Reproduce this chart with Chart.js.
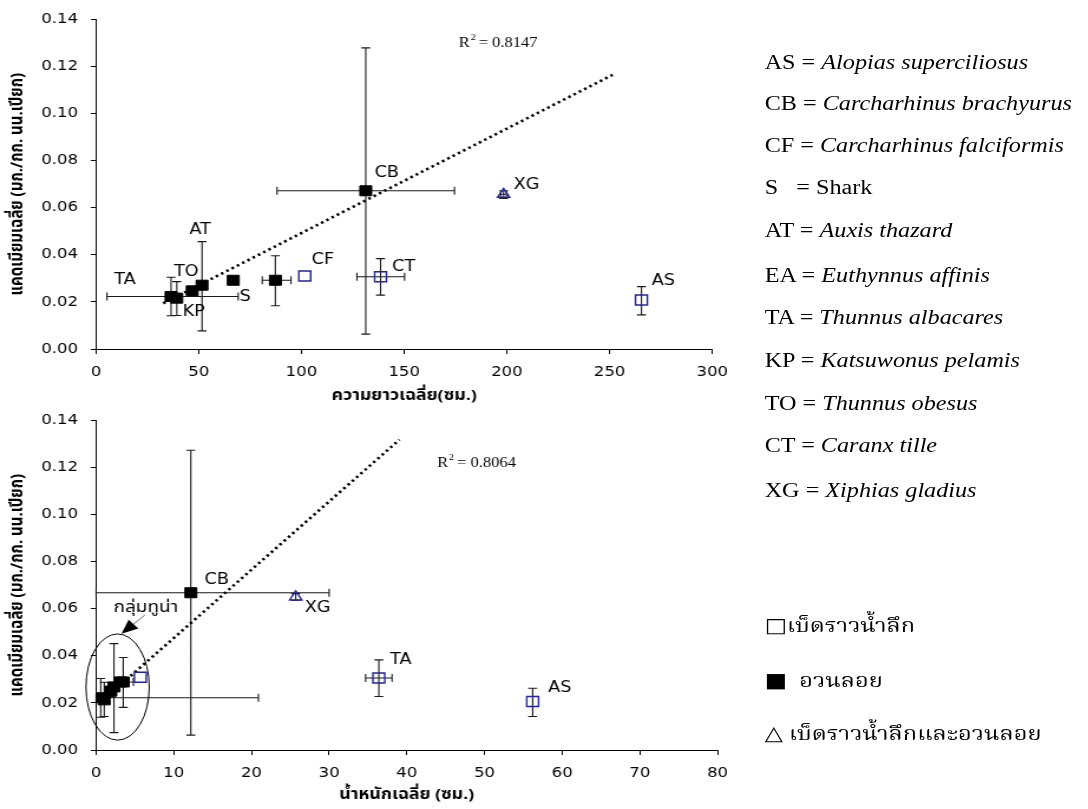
<!DOCTYPE html>
<html lang="th">
<head>
<meta charset="utf-8">
<title>แคดเมียมเฉลี่ยกับขนาดปลา</title>
<script src="https://cdn.jsdelivr.net/npm/chart.js@4.4.1/dist/chart.umd.min.js"></script>
<style>
  html, body { margin: 0; padding: 0; background: #fff; }
  body { width: 1088px; height: 809px; position: relative; overflow: hidden; }
  /* the whole figure is laid out narrow and widened as one piece */
  #fig {
    position: absolute; left: 0; top: 0; width: 922px; height: 809px;
    transform: scaleX(1.18); transform-origin: 0 0;
  }
  .plot { position: absolute; left: 0; width: 627px; }
  #lenBox { top: 0; height: 410px; }
  #wtBox { top: 401px; height: 408px; }
  .key {
    position: absolute; left: 648px; height: 24px; line-height: 24px;
    font-family: "Liberation Serif", "Times New Roman", serif; font-size: 20.5px;
    color: #000; white-space: nowrap;
  }
  .key i { font-style: italic; }
  .thai { font-family: "Noto Serif Thai", "Noto Sans Thai", Norasi, Loma, Garuda, serif; font-size: 20px; }
  .sym { font-family: "DejaVu Sans", sans-serif; font-size: 20px; }
</style>
</head>
<body>
<div id="fig">
  <div class="plot" id="lenBox"><canvas id="lenChart"></canvas></div>
  <div class="plot" id="wtBox"><canvas id="wtChart"></canvas></div>

  <div class="key" style="top:50px">AS = <i>Alopias superciliosus</i></div>
  <div class="key" style="top:91px">CB = <i>Carcharhinus brachyurus</i></div>
  <div class="key" style="top:133px">CF = <i>Carcharhinus falciformis</i></div>
  <div class="key" style="top:175px">S &nbsp;&nbsp;= Shark</div>
  <div class="key" style="top:218px">AT = <i>Auxis thazard</i></div>
  <div class="key" style="top:263px">EA = <i>Euthynnus affinis</i></div>
  <div class="key" style="top:305px">TA = <i>Thunnus albacares</i></div>
  <div class="key" style="top:348px">KP = <i>Katsuwonus pelamis</i></div>
  <div class="key" style="top:391px">TO = <i>Thunnus obesus</i></div>
  <div class="key" style="top:433px">CT = <i>Caranx tille</i></div>
  <div class="key" style="top:478px">XG = <i>Xiphias gladius</i></div>

  <div class="key thai" style="top:613px"><span class="sym">□</span>เบ็ดราวน้ำลึก</div>
  <div class="key thai" style="top:668px"><span class="sym">■</span> &nbsp;อวนลอย</div>
  <div class="key thai" style="top:721px"><span class="sym">△</span> เบ็ดราวน้ำลึกและอวนลอย</div>
</div>

<script>
// ---- ความยาวเฉลี่ย (ซม.) vs แคดเมียม ----
const lenCodes = ['TA', 'KP', 'TO', 'AT', 'S', 'EA', 'CB', 'CF', 'CT', 'XG', 'AS'];
const lenLabels = ['TA', 'KP', 'TO', 'AT', 'S', '', 'CB', 'CF', 'CT', 'XG', 'AS'];
const lenGear = ['drift', 'drift', 'drift', 'drift', 'drift', 'drift', 'drift', 'long', 'long', 'both', 'long'];
const lenX = [36.5, 39.3, 46.8, 51.6, 66.8, 87.3, 131.3, 101.6, 138.5, 198.4, 265.5];
const lenY = [0.0223, 0.0216, 0.0247, 0.0271, 0.0292, 0.0292, 0.0672, 0.0310, 0.0307, 0.0657, 0.0208];
const lenXLo = [5.3, null, null, null, null, 80.9, 88.1, null, 127.0, 197.0, null];
const lenXHi = [69.2, null, null, null, null, 94.9, 174.5, null, 150.2, 199.8, null];
const lenYLo = [0.0141, 0.0142, 0.0226, 0.0077, null, 0.0184, 0.0063, null, 0.0229, 0.0640, 0.0145];
const lenYHi = [0.0305, 0.0286, 0.0261, 0.0456, null, 0.0396, 0.1279, null, 0.0384, 0.0672, 0.0265];
const lenTrendX = [32.7, 252.7];
const lenTrendY = [0.0194, 0.1170];
const lenR2 = '0.8147';

// ---- น้ำหนักเฉลี่ย vs แคดเมียม ----
const wtCodes = ['TA', 'KP', 'TO', 'AT', 'S', 'EA', 'CB', 'CF', 'CT', 'XG', 'AS'];
const wtLabels = ['', '', '', '', '', '', 'CB', '', 'TA', 'XG', 'AS'];
const wtGear = lenGear;
const wtX = [0.6, 1.05, 1.9, 2.3, 3.1, 3.5, 12.2, 5.7, 36.4, 25.7, 56.2];
const wtY = [0.0222, 0.0213, 0.0250, 0.0268, 0.0289, 0.0289, 0.0668, 0.0309, 0.0306, 0.0650, 0.0206];
const wtXLo = [0, null, null, null, null, 2.9, 0, null, 34.7, null, null];
const wtXHi = [20.9, null, null, null, null, 4.8, 30.0, null, 38.1, null, null];
const wtYLo = [0.0139, 0.0142, 0.0225, 0.0074, null, 0.0181, 0.0063, null, 0.0227, 0.0636, 0.0142];
const wtYHi = [0.0304, 0.0288, 0.0262, 0.0452, null, 0.0393, 0.1273, null, 0.0383, 0.0664, 0.0262];
const wtTrendX = [0.6, 39.05];
const wtTrendY = [0.0203, 0.1318];
const wtR2 = '0.8064';

const SANS = '"DejaVu Sans", "Liberation Sans", Arial, sans-serif';
const SERIF = '"Liberation Serif", "Times New Roman", serif';
const THAI = '"Noto Sans Thai", "Noto Serif Thai", Loma, Garuda, Norasi, "DejaVu Sans", sans-serif';
const BLUE = '#23239c';

const gearStyle = {
  drift: { pointStyle: 'rect', pointRadius: 7.1, backgroundColor: '#000', borderColor: '#000', borderWidth: 1 },
  long: { pointStyle: 'rect', pointRadius: 7.1, backgroundColor: 'rgba(0,0,0,0)', borderColor: BLUE, borderWidth: 1.4 },
  both: { pointStyle: 'triangle', pointRadius: 6, backgroundColor: 'rgba(0,0,0,0)', borderColor: BLUE, borderWidth: 1.4 }
};

// where each code's text sits relative to its marker (px)
const lenLabelPos = {
  TA: [-39, -16], KP: [14.4, 14], TO: [-5, -19], AT: [-1.7, -55], S: [10.2, 17],
  CB: [17.8, -18], CF: [15.3, -16], CT: [19.5, -10], XG: [19.5, -9], AS: [18.6, -19]
};
const wtLabelPos = { CB: [22, -13], TA: [18.6, -18], XG: [18.6, 11], AS: [22.9, -13] };

function buildDatasets(xs, ys, gear, trendX, trendY) {
  const sets = ['long', 'both', 'drift'].map(g => {
    const pts = [];
    xs.forEach((x, i) => { if (gear[i] === g) pts.push({ x, y: ys[i] }); });
    return Object.assign({ data: pts, showLine: false }, gearStyle[g]);
  });
  sets.push({
    data: trendX.map((x, i) => ({ x, y: trendY[i] })),
    showLine: true, pointRadius: 0, borderColor: '#000', borderWidth: 2.6,
    borderDash: [2.2, 3.0], fill: false
  });
  return sets;
}

const errorBars = {
  id: 'errorBars',
  beforeDatasetsDraw(chart, args, o) {
    const { ctx } = chart;
    const sx = chart.scales.x, sy = chart.scales.y;
    const seg = (a, b, c, d) => { ctx.moveTo(a, b); ctx.lineTo(c, d); };
    ctx.save();
    ctx.strokeStyle = '#1a1a1a';
    ctx.lineWidth = 1.1;
    ctx.beginPath();
    o.xs.forEach((xv, i) => {
      const px = sx.getPixelForValue(xv), py = sy.getPixelForValue(o.ys[i]);
      if (o.xLo[i] !== null) {
        const a = sx.getPixelForValue(o.xLo[i]), b = sx.getPixelForValue(o.xHi[i]);
        seg(a, py, b, py); seg(a, py - 4, a, py + 4); seg(b, py - 4, b, py + 4);
      }
      if (o.yLo[i] !== null) {
        const a = sy.getPixelForValue(o.yLo[i]), b = sy.getPixelForValue(o.yHi[i]);
        seg(px, a, px, b); seg(px - 3.8, a, px + 3.8, a); seg(px - 3.8, b, px + 3.8, b);
      }
    });
    ctx.stroke();
    ctx.restore();
  }
};

const codeLabels = {
  id: 'codeLabels',
  afterDatasetsDraw(chart, args, o) {
    const { ctx } = chart;
    const sx = chart.scales.x, sy = chart.scales.y;
    ctx.save();
    ctx.font = '15px ' + SANS;
    ctx.fillStyle = '#000';
    ctx.textAlign = 'center';
    ctx.textBaseline = 'middle';
    o.labels.forEach((t, i) => {
      if (!t) return;
      const d = o.pos[t];
      ctx.fillText(t, sx.getPixelForValue(o.xs[i]) + d[0], sy.getPixelForValue(o.ys[i]) + d[1]);
    });
    // R² of the fitted line
    const rx = sx.getPixelForValue(o.r2At[0]), ry = sy.getPixelForValue(o.r2At[1]);
    ctx.textAlign = 'left';
    ctx.font = '14px ' + SERIF;
    ctx.fillText('R', rx, ry);
    const w = ctx.measureText('R').width;
    ctx.font = '9px ' + SERIF;
    ctx.fillText('2', rx + w + 0.5, ry - 5);
    ctx.font = '14px ' + SERIF;
    ctx.fillText(' = ' + o.r2, rx + w + 4, ry);
    ctx.restore();
  }
};

// ellipse and arrow marking the tuna group
const tunaGroup = {
  id: 'tunaGroup',
  afterDatasetsDraw(chart, args, o) {
    if (!o.box) return;
    const { ctx } = chart;
    const sx = chart.scales.x, sy = chart.scales.y;
    const x0 = sx.getPixelForValue(o.box[0]), x1 = sx.getPixelForValue(o.box[1]);
    const y0 = sy.getPixelForValue(o.box[2]), y1 = sy.getPixelForValue(o.box[3]);
    ctx.save();
    ctx.strokeStyle = '#000';
    ctx.lineWidth = 1;
    ctx.beginPath();
    ctx.ellipse((x0 + x1) / 2, (y0 + y1) / 2, Math.abs(x1 - x0) / 2, Math.abs(y1 - y0) / 2, 0, 0, Math.PI * 2);
    ctx.stroke();

    const ax = sx.getPixelForValue(o.arrow[0]), ay = sy.getPixelForValue(o.arrow[1]);
    const tx = sx.getPixelForValue(o.arrow[2]), ty = sy.getPixelForValue(o.arrow[3]);
    const ang = Math.atan2(ty - ay, tx - ax);
    const hl = 14, hw = 6;
    const bx = tx - hl * Math.cos(ang), by = ty - hl * Math.sin(ang);
    ctx.strokeStyle = '#666';
    ctx.beginPath();
    ctx.moveTo(ax, ay); ctx.lineTo(bx, by);
    ctx.stroke();
    ctx.fillStyle = '#000';
    ctx.beginPath();
    ctx.moveTo(tx, ty);
    ctx.lineTo(bx + hw * Math.sin(ang), by - hw * Math.cos(ang));
    ctx.lineTo(bx - hw * Math.sin(ang), by + hw * Math.cos(ang));
    ctx.closePath();
    ctx.fill();

    ctx.font = '16px ' + THAI;
    ctx.textAlign = 'center';
    ctx.textBaseline = 'middle';
    ctx.fillText(o.text, sx.getPixelForValue(o.textAt[0]), sy.getPixelForValue(o.textAt[1]));
    ctx.restore();
  }
};

function axes(xMax, xStep, xTitle, xBoxH) {
  return {
    x: {
      type: 'linear', min: 0, max: xMax,
      ticks: { stepSize: xStep, color: '#000', font: { family: SANS, size: 14 }, padding: 10, maxRotation: 0 },
      grid: { drawOnChartArea: false, drawTicks: true, tickLength: 5, color: '#000' },
      border: { color: '#000', width: 1 },
      title: { display: true, text: xTitle, color: '#000', font: { family: THAI, size: 15, weight: 'bold' }, padding: { top: 0, bottom: 4 } },
      afterFit(s) { s.height = xBoxH; }
    },
    y: {
      type: 'linear', min: 0, max: 0.14,
      ticks: { stepSize: 0.02, color: '#000', font: { family: SANS, size: 14 }, padding: 11, callback: v => v.toFixed(2) },
      grid: { drawOnChartArea: false, drawTicks: true, tickLength: 4.3, color: '#000' },
      border: { color: '#000', width: 1 },
      title: { display: true, text: 'แคดเมียมเฉลี่ย (มก./กก. นน.เปียก)', color: '#000', font: { family: THAI, size: 15, weight: 'bold' }, padding: { top: 7, bottom: 0 } },
      afterFit(s) { s.width = 81.4; }
    }
  };
}

function common(padRight) {
  return {
    responsive: true,
    maintainAspectRatio: false,
    animation: false,
    layout: { padding: { top: 14, right: padRight, left: 0, bottom: 0 } }
  };
}

new Chart(document.getElementById('lenChart'), {
  type: 'scatter',
  data: { datasets: buildDatasets(lenX, lenY, lenGear, lenTrendX, lenTrendY) },
  options: Object.assign(common(16.8), {
    scales: axes(300, 50, 'ความยาวเฉลี่ย(ซม.)', 61),
    plugins: {
      legend: { display: false }, tooltip: { enabled: false },
      errorBars: { xs: lenX, ys: lenY, xLo: lenXLo, xHi: lenXHi, yLo: lenYLo, yHi: lenYHi },
      codeLabels: { xs: lenX, ys: lenY, labels: lenLabels, pos: lenLabelPos, r2: lenR2, r2At: [176.6, 0.130] },
      tunaGroup: {}
    }
  }),
  plugins: [errorBars, codeLabels, tunaGroup]
});

new Chart(document.getElementById('wtChart'), {
  type: 'scatter',
  data: { datasets: buildDatasets(wtX, wtY, wtGear, wtTrendX, wtTrendY) },
  options: Object.assign(common(11.7), {
    scales: axes(80, 10, 'น้ำหนักเฉลี่ย (ซม.)', 59),
    plugins: {
      legend: { display: false }, tooltip: { enabled: false },
      errorBars: { xs: wtX, ys: wtY, xLo: wtXLo, xHi: wtXHi, yLo: wtYLo, yHi: wtYHi },
      codeLabels: { xs: wtX, ys: wtY, labels: wtLabels, pos: wtLabelPos, r2: wtR2, r2At: [43.9, 0.1219] },
      tunaGroup: {
        box: [-1.3, 6.85, 0.0042, 0.0493],
        arrow: [6.3, 0.0574, 3.27, 0.0494],
        text: 'กลุ่มทูน่า', textAt: [6.42, 0.0601]
      }
    }
  }),
  plugins: [errorBars, codeLabels, tunaGroup]
});
</script>
</body>
</html>
